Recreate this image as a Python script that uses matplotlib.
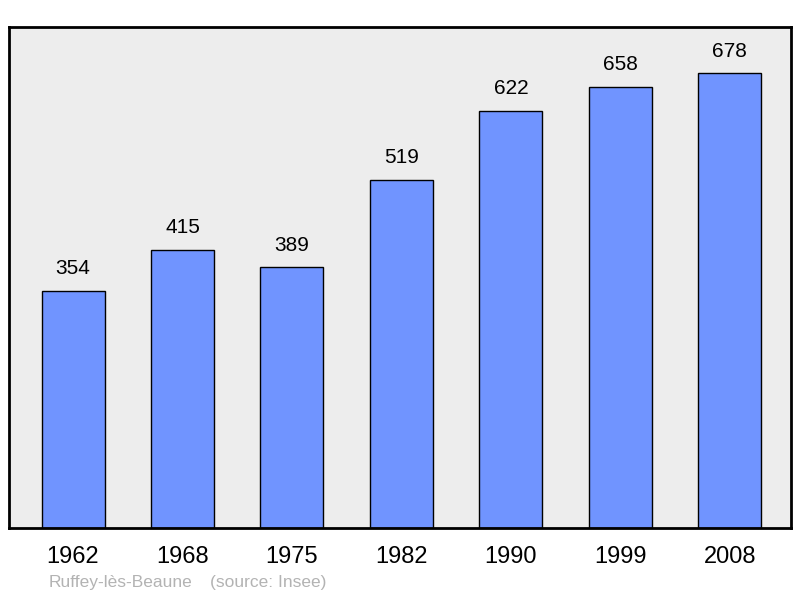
import matplotlib.pyplot as plt

plt.rcParams["font.family"] = ["Liberation Sans", "DejaVu Sans"]

years = ["1962", "1968", "1975", "1982", "1990", "1999", "2008"]
population = [354, 415, 389, 519, 622, 658, 678]
commune = "Ruffey-lès-Beaune"
source = "(source: Insee)"

fig = plt.figure(figsize=(8, 5.98), dpi=100)
ax = fig.add_axes([0.01125, 0.117, 0.9775, 0.8378])
ax.set_facecolor("#ededed")

x = range(len(years))
bars = ax.bar(x, population, width=0.576, color="#7094ff",
              edgecolor="black", linewidth=1, zorder=2)

for xi, v in zip(x, population):
    ax.annotate(str(v), (xi, v), xytext=(0, 9), textcoords="offset points",
                ha="center", va="bottom", fontsize=15)

ax.set_xlim(-0.585, 6.56)
ax.set_ylim(0, 747)
ax.set_xticks(list(x))
ax.set_xticklabels(years, fontsize=17)
ax.tick_params(axis="x", length=0, pad=13)
ax.set_yticks([])
for s in ax.spines.values():
    s.set_linewidth(2)
    s.set_color("black")

fig.text(49 / 800, 1 - 583 / 598, commune, color="#b3b3b3", fontsize=12.5, va="center")
fig.text(210 / 800, 1 - 583 / 598, source, color="#b3b3b3", fontsize=12.5, va="center")

fig.savefig("out.png")
